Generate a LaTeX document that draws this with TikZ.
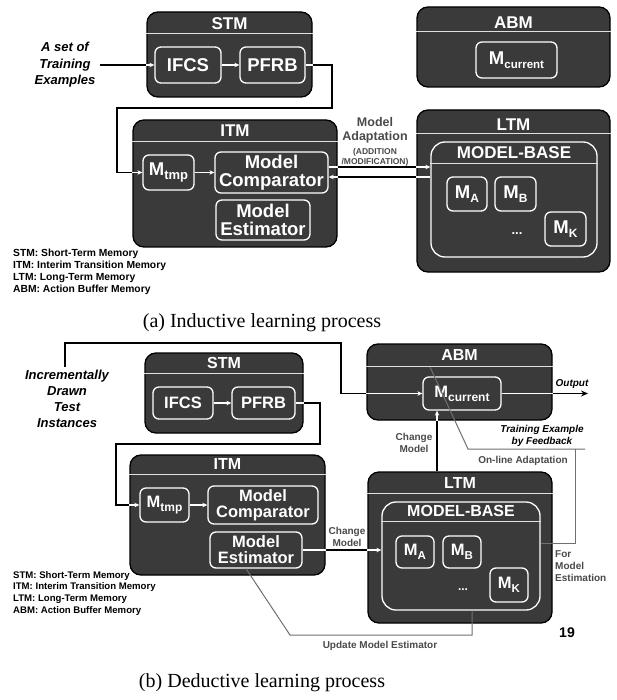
\documentclass[tikz,border=0pt]{standalone}
\usepackage{fontspec}
\setmainfont{Liberation Serif}
\newfontfamily\arial{Liberation Sans}
\usetikzlibrary{arrows.meta}
\definecolor{boxgray}{HTML}{3A3A3A}
\definecolor{linegray}{HTML}{707070}
\definecolor{labelgray}{HTML}{4A4A4A}
\newcommand\fs[2]{\fontsize{#1}{#2}\selectfont}
\newcommand\msub[3]{#1\raisebox{-4pt}{\fs{#3}{#3}#2}}
\begin{document}
\begin{tikzpicture}[x=1pt,y=-1pt,
  outer/.style={draw=black, line width=1.3pt, fill=boxgray, rounded corners=11pt, inner sep=0pt},
  inbox/.style={draw=white, line width=1.3pt, fill=boxgray, rounded corners=6pt, inner sep=0pt, text=white, align=center},
  bigA/.style={inbox, font=\arial\bfseries\fs{18.5}{18}},
  bigB/.style={inbox, font=\arial\bfseries\fs{16.5}{16}},
  basebox/.style={inbox, rounded corners=14pt},
  ttlA/.style={text=white, font=\arial\bfseries\fs{17}{17}, inner sep=0pt},
  ttlB/.style={text=white, font=\arial\bfseries\fs{16}{16}, inner sep=0pt},
  sep/.style={draw=white!88!black, line width=0.8pt},
  wire/.style={draw=black, line width=1.3pt},
  wseg/.style={draw=white, line width=1.3pt},
  warrow/.style={wseg, -{Stealth[length=5pt,width=4.5pt]}},
  barrow/.style={wire, -{Stealth[length=7pt,width=6pt]}},
  gwire/.style={draw=linegray, line width=1pt},
  note/.style={font=\arial\bfseries\itshape\fs{13}{16.5}, align=center, inner sep=0pt},
  inote/.style={font=\arial\bfseries\itshape\fs{10}{12}, align=center, inner sep=0pt},
  glabel/.style={font=\arial\bfseries\fs{10}{12}, text=labelgray, align=center, inner sep=0pt},
  legend/.style={font=\arial\bfseries\fs{10.3}{12}, align=left, anchor=north west, inner sep=0pt},
  captext/.style={font=\fs{20}{20}, inner sep=0pt}
]
\fill[white] (0,0) rectangle (617,700);
\useasboundingbox (0,0) rectangle (617,700);

% ================= (a) inductive learning =================
% STM
\node[outer, minimum width=165, minimum height=85] (stmA) at (229.5,54.5) {};
\node[ttlA] (stmAt) at ([yshift=-12.5pt]stmA.north) {STM};
\draw[sep] ([yshift=-22pt]stmA.north west) -- ([yshift=-22pt]stmA.north east);
\node[bigA, minimum width=66, minimum height=36] (ifcsA) at (188,65) {IFCS};
\node[bigA, minimum width=65, minimum height=36] (pfrbA) at (272.5,65) {PFRB};
\draw[warrow] (ifcsA) -- (pfrbA);

% ITM
\node[outer, minimum width=204, minimum height=127] (itmA) at (235,183.5) {};
\node[ttlA] (itmAt) at ([yshift=-11.5pt]itmA.north) {ITM};
\draw[sep] ([yshift=-22pt]itmA.north west) -- ([yshift=-22pt]itmA.north east);
\node[bigA, minimum width=51, minimum height=35] (mtmpA) at (168.5,172.5) {\msub{M}{tmp}{13}};
\node[bigA, minimum width=113, minimum height=41] (compA) at (271.5,172.5) {Model\\Comparator};
\node[bigA, minimum width=94, minimum height=40] (estA) at (263,220) {Model\\Estimator};
\draw[warrow] (mtmpA) -- (compA);

% ABM
\node[outer, minimum width=193, minimum height=80] (abmA) at (513.5,47) {};
\node[ttlA] (abmAt) at ([yshift=-16.5pt]abmA.north) {ABM};
\draw[sep] ([yshift=-25pt]abmA.north west) -- ([yshift=-25pt]abmA.north east);
\node[bigA, minimum width=81, minimum height=36] (mcurA) at (516.5,60) {\msub{M}{current}{11.5}};

% LTM with the model base
\node[outer, minimum width=193, minimum height=162] (ltmA) at (513.5,191) {};
\node[ttlA] (ltmAt) at ([yshift=-15pt]ltmA.north) {LTM};
\draw[sep] ([yshift=-24pt]ltmA.north west) -- ([yshift=-24pt]ltmA.north east);
\node[basebox, minimum width=166, minimum height=115] (mbA) at (514,199.5) {};
\node[ttlA] (mbAt) at ([yshift=-11pt]mbA.north) {MODEL-BASE};
\draw[sep] ([yshift=-22pt]mbA.north west) -- ([yshift=-22pt]mbA.north east);
\node[bigA, minimum width=40, minimum height=34] (maA) at (467,194) {\msub{M}{A}{12}};
\node[bigA, minimum width=41, minimum height=34] (mbbA) at (515.5,194) {\msub{M}{B}{12}};
\node[bigA, minimum width=41, minimum height=34] (mkA) at (565.5,229) {\msub{M}{K}{12}};
\node[text=white, font=\arial\bfseries\fs{13}{13}, inner sep=0pt] (dotsA) at (517,234) {...};

% input examples
\node[note] (inA) at (65,65) {A set of\\Training\\Examples};
\draw[wire] ([xshift=4pt]inA.east) -- (stmA.west |- ifcsA);
\draw[warrow] (stmA.west |- ifcsA) -- (ifcsA.west);

% STM -> ITM
\coordinate (a1) at (332,108);
\coordinate (a2) at (117,108);
\draw[wseg] (pfrbA.east) -- (stmA.east |- pfrbA);
\draw[wire] (stmA.east |- pfrbA) -- (a1 |- pfrbA) -- (a1) -- (a2) -- (a2 |- mtmpA) -- (itmA.west |- mtmpA);
\draw[warrow] (itmA.west |- mtmpA) -- (mtmpA.west);

% model adaptation between comparator and model base
\coordinate (upC) at ([yshift=5.5pt]compA.east);
\coordinate (loC) at ([yshift=-4.5pt]compA.east);
\draw[wseg] (upC) -- (upC -| itmA.east);
\draw[wire] (upC -| itmA.east) -- (upC -| ltmA.west);
\draw[warrow] (upC -| ltmA.west) -- (upC -| mbA.west);
\draw[wseg] (loC -| mbA.west) -- (loC -| ltmA.west);
\draw[wire] (loC -| ltmA.west) -- (loC -| itmA.east);
\draw[warrow] (loC -| itmA.east) -- (loC);
\node[font=\arial\bfseries\fs{12.5}{14}, text=labelgray, align=center, inner sep=0pt] (adA) at (375,130) {Model\\Adaptation};
\node[font=\arial\bfseries\fs{8.5}{10}, text=labelgray, align=center, inner sep=0pt] (adA2) at (375,157) {(ADDITION\\/MODIFICATION)};

\node[legend] (legA) at (13,248.5) {STM: Short-Term Memory\\ITM: Interim Transition Memory\\LTM: Long-Term Memory\\ABM: Action Buffer Memory};
\node[captext] (capA) at (262,323) {(a) Inductive learning process};

% ================= (b) deductive learning =================
% STM
\node[outer, minimum width=158, minimum height=80] (stmB) at (224,393) {};
\node[ttlB] (stmBt) at ([yshift=-11pt]stmB.north) {STM};
\draw[sep] ([yshift=-21pt]stmB.north west) -- ([yshift=-21pt]stmB.north east);
\node[bigB, minimum width=60, minimum height=32] (ifcsB) at (183,403) {IFCS};
\node[bigB, minimum width=63, minimum height=32] (pfrbB) at (263.5,403) {PFRB};
\draw[warrow] (ifcsB) -- (pfrbB);

% ITM
\node[outer, minimum width=195, minimum height=120] (itmB) at (227.5,515) {};
\node[ttlB] (itmBt) at ([yshift=-10pt]itmB.north) {ITM};
\draw[sep] ([yshift=-20pt]itmB.north west) -- ([yshift=-20pt]itmB.north east);
\node[bigB, minimum width=49, minimum height=34] (mtmpB) at (164.5,505) {\msub{M}{tmp}{12}};
\node[bigB, minimum width=110, minimum height=38] (compB) at (263,505) {Model\\Comparator};
\node[bigB, minimum width=92, minimum height=36] (estB) at (256,550) {Model\\Estimator};
\draw[warrow] (mtmpB) -- (compB);

% ABM
\node[outer, minimum width=185, minimum height=76] (abmB) at (459.5,382) {};
\node[ttlB] (abmBt) at ([yshift=-12pt]abmB.north) {ABM};
\draw[sep] ([yshift=-23pt]abmB.north west) -- ([yshift=-23pt]abmB.north east);
\node[bigB, minimum width=78, minimum height=33] (mcurB) at (462,393.5) {\msub{M}{current}{12}};

% LTM with the model base
\node[outer, minimum width=184, minimum height=151] (ltmB) at (460,547.5) {};
\node[ttlB] (ltmBt) at ([yshift=-12pt]ltmB.north) {LTM};
\draw[sep] ([yshift=-22pt]ltmB.north west) -- ([yshift=-22pt]ltmB.north east);
\node[basebox, minimum width=158, minimum height=108] (mbB) at (461,556) {};
\node[ttlB] (mbBt) at ([yshift=-10pt]mbB.north) {MODEL-BASE};
\draw[sep] ([yshift=-20pt]mbB.north west) -- ([yshift=-20pt]mbB.north east);
\node[bigB, minimum width=38, minimum height=32] (maB) at (415,552) {\msub{M}{A}{11.5}};
\node[bigB, minimum width=38, minimum height=32] (mbbB) at (462,552) {\msub{M}{B}{11.5}};
\node[bigB, minimum width=38, minimum height=34] (mkB) at (509,585) {\msub{M}{K}{11.5}};
\node[text=white, font=\arial\bfseries\fs{12}{12}, inner sep=0pt] (dotsB) at (463,590) {...};

% test instances -> current model
\node[note, font=\arial\bfseries\itshape\fs{13}{16}] (inB) at (67,399) {Incrementally\\Drawn\\Test\\Instances};
\coordinate (topL) at (65,343);
\coordinate (topR) at (341,343);
\draw[wire] (topL |- inB.north) ++(0,-3) -- (topL) -- (topR) -- (topR |- mcurB) -- (abmB.west |- mcurB);
\draw[warrow] (abmB.west |- mcurB) -- (mcurB.west);

% STM -> ITM
\coordinate (b1) at (320,444);
\coordinate (b2) at (116,444);
\draw[wseg] (pfrbB.east) -- (stmB.east |- pfrbB);
\draw[wire] (stmB.east |- pfrbB) -- (b1 |- pfrbB) -- (b1) -- (b2) -- (b2 |- mtmpB) -- (itmB.west |- mtmpB);
\draw[warrow] (itmB.west |- mtmpB) -- (mtmpB.west);

% output
\coordinate (outEnd) at (588,393.5);
\draw[wseg] (mcurB.east) -- (abmB.east |- mcurB);
\draw[barrow] (abmB.east |- mcurB) -- (outEnd);
\node[inote] (outL) at (572,384) {Output};

% change model: LTM -> ABM
\coordinate (cmV) at (437,446);
\draw[wire] (cmV |- ltmB.north) -- (cmV |- abmB.south);
\draw[warrow] (cmV |- abmB.south) -- (cmV |- mcurB.south);
\node[glabel] (cmVl) at (414,443) {Change\\Model};

% change model: estimator -> model base
\draw[wseg] (estB.east) -- (itmB.east |- estB);
\draw[wire] (itmB.east |- estB) -- (ltmB.west |- estB);
\draw[warrow] (ltmB.west |- estB) -- (mbB.west |- estB);
\node[glabel] (cmHl) at (347,537) {Change\\Model};

% update of the model estimator
\coordinate (u1) at (290,635);
\coordinate (u2) at (472,635);
\draw[gwire] ([xshift=-10pt]estB.south) -- (u1) -- (u2) -- (u2 |- mbB.south);
\node[glabel] (updL) at (380,646) {Update Model Estimator};

% on-line adaptation by feedback
\coordinate (f0) at (430,367);
\coordinate (f1) at (468,449);
\coordinate (f2) at (585,449);
\coordinate (f3) at (575,449);
\coordinate (f4) at (575,543);
\draw[gwire] (f0) -- (f1) -- (f2);
\draw[gwire] (f3) -- (f4) -- (mbB.east |- f4);
\node[inote] (tefL) at (542,436) {Training Example\\by Feedback};
\node[glabel] (olaL) at (523,461) {On-line Adaptation};
\node[glabel, align=left, anchor=west] (fmeL) at (555,566) {For\\Model\\Estimation};
\node[font=\arial\bfseries\fs{14}{14}, inner sep=0pt] (pgno) at (567,633) {19};

\node[legend, font=\arial\bfseries\fs{9.6}{11.7}] (legB) at (13,571) {STM: Short-Term Memory\\ITM: Interim Transition Memory\\LTM: Long-Term Memory\\ABM: Action Buffer Memory};
\node[captext] (capB) at (262,683) {(b) Deductive learning process};
\end{tikzpicture}
\end{document}
